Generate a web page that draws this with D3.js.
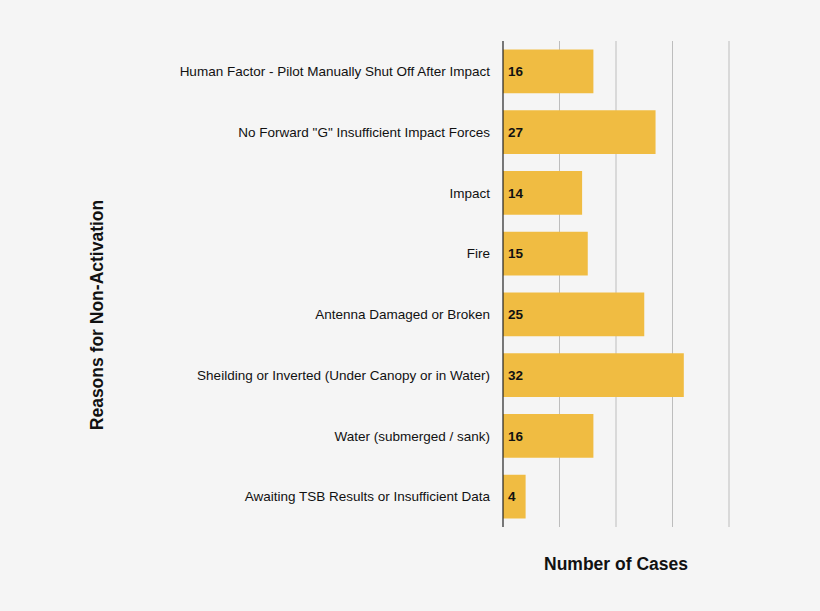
<!DOCTYPE html>
<html><head><meta charset="utf-8">
<script src="https://cdn.jsdelivr.net/npm/d3@7"></script>
<style>body{margin:0;background:#f5f5f5}text{font-family:"Liberation Sans",Arial,sans-serif}</style>
</head><body><svg id="c" width="820" height="611"></svg>
<script>
let reasons = [
  "Human Factor - Pilot Manually Shut Off After Impact",
  "No Forward \"G\" Insufficient Impact Forces",
  "Impact",
  "Fire",
  "Antenna Damaged or Broken",
  "Sheilding or Inverted (Under Canopy or in Water)",
  "Water (submerged / sank)",
  "Awaiting TSB Results or Insufficient Data"
]
let cases = [16, 27, 14, 15, 25, 32, 16, 4]
let gridTicks = [10, 20, 30, 40]

let data = reasons.map((r, i) => ({ reason: r, value: cases[i] }))

let svg = d3.select('#c')
svg.append('rect').attr('width', 820).attr('height', 611).attr('fill', '#f5f5f5')

let x = d3.scaleLinear().domain([0, 40]).range([503, 729])
let y = d3.scaleBand().domain(reasons).range([41, 527]).paddingInner(0.28).paddingOuter(0.14)

// gridlines
svg.selectAll('.grid').data(gridTicks).enter().append('line')
  .attr('x1', d => x(d)).attr('x2', d => x(d))
  .attr('y1', 41).attr('y2', 527)
  .attr('stroke', '#bdbdbd').attr('stroke-width', 1)

svg.selectAll('.bar').data(data).enter().append('rect')
  .attr('x', x(0))
  .attr('y', d => y(d.reason))
  .attr('width', d => x(d.value) - x(0))
  .attr('height', y.bandwidth())
  .attr('fill', '#f0bc42')

// axis line
svg.append('line').attr('x1', x(0)).attr('x2', x(0)).attr('y1', 41).attr('y2', 527)
  .attr('stroke', '#222').attr('stroke-width', 1.2)

svg.selectAll('.lab').data(data).enter().append('text')
  .attr('x', 490).attr('y', d => y(d.reason) + y.bandwidth() / 2)
  .attr('dy', '0.35em').attr('text-anchor', 'end')
  .attr('font-size', 13.5).attr('fill', '#111')
  .text(d => d.reason)

svg.selectAll('.val').data(data).enter().append('text')
  .attr('x', x(0) + 5).attr('y', d => y(d.reason) + y.bandwidth() / 2)
  .attr('dy', '0.35em').attr('font-size', 13.5).attr('font-weight', 'bold')
  .attr('fill', '#111')
  .text(d => d.value)

svg.append('text').attr('x', 616).attr('y', 570).attr('text-anchor', 'middle')
  .attr('font-size', 17.5).attr('font-weight', 'bold').attr('fill', '#111')
  .text('Number of Cases')

svg.append('text').attr('transform', 'translate(103,315) rotate(-90)')
  .attr('text-anchor', 'middle').attr('font-size', 17.5).attr('font-weight', 'bold')
  .attr('fill', '#111')
  .text('Reasons for Non-Activation')
</script></body></html>
